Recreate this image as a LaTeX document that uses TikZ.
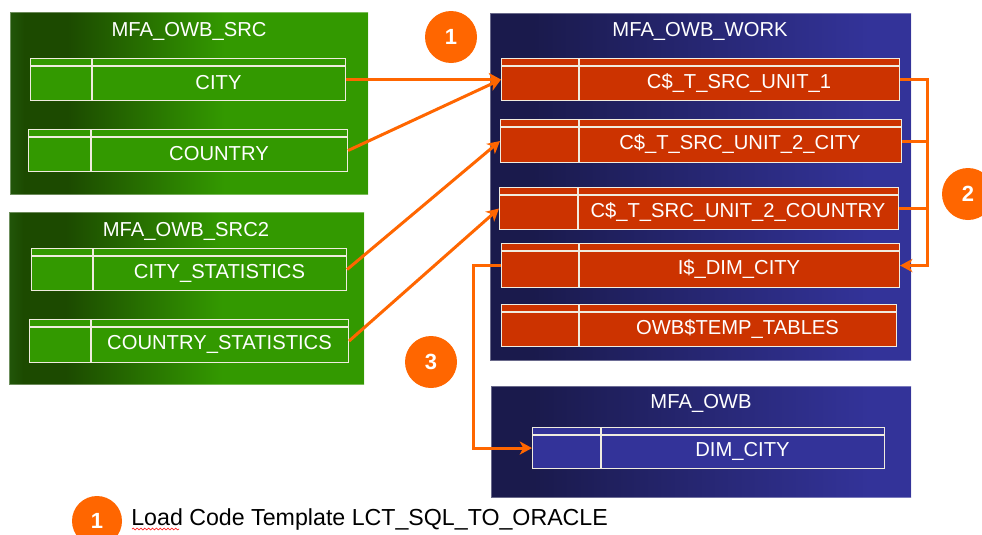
\documentclass[tikz,border=0pt]{standalone}
\usepackage{fontspec}
\setmainfont{Liberation Sans}
\usetikzlibrary{calc, positioning}
\usetikzlibrary{arrows.meta}
\usetikzlibrary{decorations.pathmorphing}

\definecolor{srcdark}{HTML}{1C4A00}
\definecolor{srcmid}{HTML}{22560A}
\definecolor{srcgreen}{HTML}{339900}
\definecolor{wrkdark}{HTML}{1A1A4C}
\definecolor{wrkblue}{HTML}{333399}
\definecolor{tabred}{HTML}{CC3300}
\definecolor{tabedge}{HTML}{F0ECDF}
\definecolor{flowor}{HTML}{FF6600}

\pgfdeclarehorizontalshading{srcfade}{100bp}{color(0bp)=(srcmid); color(25bp)=(srcmid); color(27bp)=(srcdark); color(33bp)=(srcdark); color(55bp)=(srcgreen); color(100bp)=(srcgreen)}
\pgfdeclarehorizontalshading{wrkfade}{100bp}{color(0bp)=(wrkdark); color(30bp)=(wrkdark); color(70bp)=(wrkblue); color(100bp)=(wrkblue)}

\def\px{0.02cm}
% style, name, x1, y1, x2, y2, split, label
\newcommand{\dbtable}[8]{%
  \node[#1, anchor=north west, minimum width={(#5-#3)*\px}, minimum height={(#6-#4)*\px}] (#2) at (#3,#4) {};
  \draw[tabline] ($(#2.north west)+(0,8)$) -- ($(#2.north east)+(0,8)$);
  \draw[tabline] (#7,#4) -- (#7,#6);
  \node[tabtext] at ({(#7+#5)/2},{(#4+8+#6)/2}) {#8};
}

\begin{document}
\begin{tikzpicture}[x=0.02cm, y=-0.02cm,
  boxedge/.style={draw=white, draw opacity=0.35, line width=0.5pt},
  tabcell/.style={draw=tabedge, line width=0.6pt, inner sep=0pt},
  srctab/.style={tabcell, fill=srcgreen},
  wrktab/.style={tabcell, fill=tabred},
  tgttab/.style={tabcell, fill=wrkblue},
  tabline/.style={draw=tabedge, line width=0.6pt},
  tabtext/.style={text=white, font=\fontsize{11.5}{13}\selectfont},
  boxtitle/.style={text=white, font=\fontsize{11.5}{13}\selectfont},
  badge/.style={circle, fill=flowor, text=white, inner sep=0pt, minimum size=52*\px, font=\fontsize{12.5}{14}\selectfont\bfseries},
  flow/.style={draw=flowor, line width=1.7pt, -{Stealth[length=7pt, width=7.5pt, inset=2pt]}},
  flowline/.style={draw=flowor, line width=1.7pt}]

\fill[white] (0,0) rectangle (982,534);
\useasboundingbox (0,0) rectangle (982,534);

% schemas
\shadedraw[shading=srcfade, boxedge] (10,12) rectangle (368,194);
\shadedraw[shading=srcfade, boxedge] (9,212) rectangle (364,384);
\shadedraw[shading=wrkfade, boxedge] (490,13) rectangle (911,360);
\shadedraw[shading=wrkfade, boxedge] (491,386) rectangle (911,497);

\node[boxtitle] (srcname) at (189,31) {MFA\_OWB\_SRC};
\node[boxtitle] (src2name) at (186,231) {MFA\_OWB\_SRC2};
\node[boxtitle] (wrkname) at (700,31) {MFA\_OWB\_WORK};
\node[boxtitle] (tgtname) at (701,403) {MFA\_OWB};

% tables
\dbtable{srctab}{city}{30}{58}{345}{100}{92}{CITY}
\dbtable{srctab}{country}{28}{129}{347}{171}{91}{COUNTRY}
\dbtable{srctab}{citystat}{31}{248}{346}{290}{93}{CITY\_STATISTICS}
\dbtable{srctab}{cntrystat}{29}{319}{348}{362}{91}{COUNTRY\_STATISTICS}

\dbtable{wrktab}{unit1}{501}{58}{899}{100}{579}{C\$\_T\_SRC\_UNIT\_1}
\dbtable{wrktab}{unit2city}{500}{119}{901}{162}{579}{C\$\_T\_SRC\_UNIT\_2\_CITY}
\dbtable{wrktab}{unit2cntry}{499}{187}{898}{229}{578}{C\$\_T\_SRC\_UNIT\_2\_COUNTRY}
\dbtable{wrktab}{idim}{501}{243}{899}{287}{579}{I\$\_DIM\_CITY}
\dbtable{wrktab}{tmptab}{501}{304}{896}{346}{579}{OWB\$TEMP\_TABLES}

\dbtable{tgttab}{dimcity}{532}{427}{884}{468}{601}{DIM\_CITY}

% loading into the work schema
\draw[flow] (city.east) -- (unit1.west);
\draw[flow] (country.east) -- (unit1.west);
\draw[flow] (citystat.east) -- (unit2city.west);
\draw[flow] (cntrystat.east) -- (unit2cntry.west);

% join into the integration table
\coordinate (bus) at (927,79);
\draw[flow] (unit1.east) -- (unit1.east -| bus) |- (idim.east);
\draw[flowline] (unit2city.east) -- (unit2city.east -| bus);
\draw[flowline] (unit2cntry.east) -- (unit2cntry.east -| bus);

% integration into the target
\draw[flow] (idim.west) -- ++(-28,0) |- (dimcity.west);

\node[badge] (b1) at (451,37) {1};
\node[badge] (b2) at (968,194) {2};
\node[badge] (b3) at (431,362) {3};

% legend
\node[badge, minimum size=50*\px] (lb1) at (97,521) {1};
\node[anchor=base west, inner sep=0pt, font=\fontsize{13.2}{15}\selectfont] (legend) at (131,525) {Load Code Template LCT\_SQL\_TO\_ORACLE};
\draw[red!85!white, line width=0.4pt, decorate, decoration={snake, amplitude=0.5pt, segment length=2.2pt}] ($(legend.base west)+(1,4)$) -- ++(47,0);
\end{tikzpicture}
\end{document}
